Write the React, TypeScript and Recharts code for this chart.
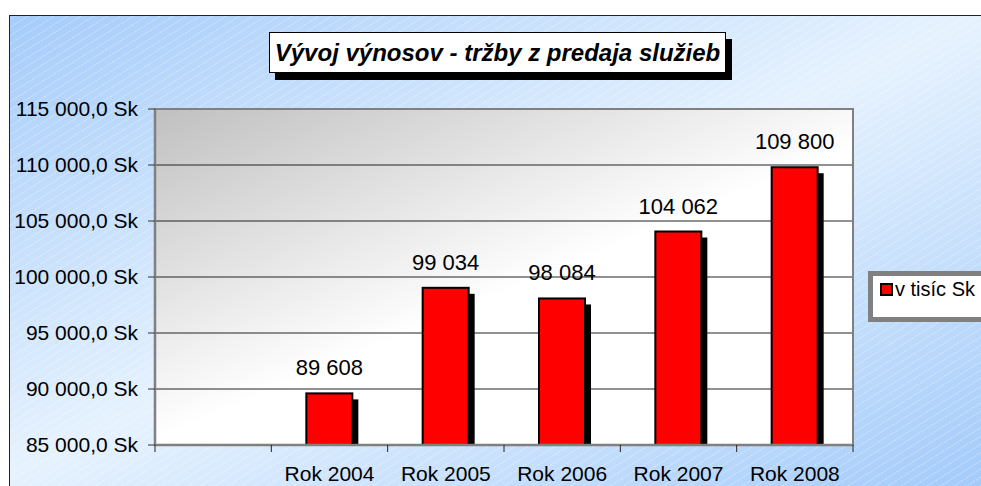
import React from 'react';
import { BarChart, Bar, XAxis, YAxis, CartesianGrid, LabelList, Legend, ReferenceArea } from 'recharts';

// ---- data ----
const categories = ['', 'Rok 2004', 'Rok 2005', 'Rok 2006', 'Rok 2007', 'Rok 2008'];
const revenues: (number | null)[] = [null, 89608, 99034, 98084, 104062, 109800];
const yTicks = [85000, 90000, 95000, 100000, 105000, 110000, 115000];
const seriesName = 'v tisíc Sk';
const chartTitle = 'Vývoj výnosov - tržby z predaja služieb';

const data = categories.map((c, i) => ({ cat: c, value: revenues[i] }));

// ---- layout / style ----
const W = 981;
const H = 486;
const FONT = 'Arial, "Liberation Sans", sans-serif';
const MARGIN = { top: 109, right: 128, bottom: 0, left: 0 };
const Y_AXIS_W = 155;
const X_AXIS_H = 41;
const X_TICK_SIZE = 6;
const X_TICK_MARGIN = 15;
const PLOT_W = W - MARGIN.right - MARGIN.left - Y_AXIS_W;
const LABEL_GAP = 18;

const groupThousands = (n: number) =>
  Math.round(n).toString().replace(/\B(?=(\d{3})+(?!\d))/g, ' ');
const fmtAxis = (v: number) => `${groupThousands(v)},0 Sk`;
const fmtLabel = (v: any) => (v == null ? '' : groupThousands(Number(v)));

const ShadowBar = (p: any) => {
  const { x, y, width, height } = p;
  if (!height || height <= 0) return null;
  return (
    <g>
      <rect x={x + 6} y={y + 6} width={width} height={Math.max(0, height - 6)} fill="#000" />
      <rect x={x} y={y} width={width} height={height} fill="#ff0000" stroke="#000" strokeWidth={2} />
    </g>
  );
};

const ValueLabel = (p: any) => {
  const { x, y, width, value } = p;
  if (value == null || value === '') return null;
  return (
    <text
      x={Number(x) + Number(width) / 2}
      y={Number(y) - LABEL_GAP}
      textAnchor="middle"
      fontSize={22}
      fill="#000"
      fontFamily={FONT}
    >
      {fmtLabel(value)}
    </text>
  );
};

const XTick = (props: any) => {
  const { x, y, payload, index } = props;
  const count = props.visibleTicksCount || categories.length;
  const w = typeof props.width === 'number' ? props.width : PLOT_W;
  const half = w / count / 2;
  const axisY = y - X_TICK_SIZE - X_TICK_MARGIN;
  return (
    <g>
      <line x1={x - half} x2={x - half} y1={axisY} y2={axisY + 7} stroke="#222" strokeWidth={1} />
      {index === count - 1 && (
        <line x1={x + half} x2={x + half} y1={axisY} y2={axisY + 7} stroke="#222" strokeWidth={1} />
      )}
      <text x={x} y={y} dy="0.71em" textAnchor="middle" fontSize={21} fill="#000" fontFamily={FONT}>
        {payload.value}
      </text>
    </g>
  );
};

const LegendBox = () => (
  <div
    style={{
      position: 'relative',
      boxSizing: 'border-box',
      width: 150,
      height: 51,
      border: '5px solid #808080',
      background: '#fff',
      fontFamily: FONT,
      fontSize: 20,
      color: '#000',
    }}
  >
    <span
      style={{
        position: 'absolute',
        left: 7,
        top: 7,
        width: 9,
        height: 9,
        border: '2px solid #000',
        background: '#ff0000',
      }}
    />
    <span style={{ position: 'absolute', left: 22, top: 3, lineHeight: '20px', whiteSpace: 'nowrap' }}>
      {seriesName}
    </span>
  </div>
);

export default function App() {
  return (
    <div
      style={{
        position: 'absolute',
        left: 0,
        top: 0,
        width: W,
        height: H,
        overflow: 'hidden',
        background: '#fff',
      }}
    >
      <svg width={W} height={H} style={{ position: 'absolute', left: 0, top: 0 }}>
        <defs>
          <linearGradient id="bgGrad" gradientUnits="userSpaceOnUse" x1={0} y1={0} x2={371} y2={783}>
            <stop offset="0" stopColor="#a2cafa" />
            <stop offset="0.5" stopColor="#e6f2fe" />
            <stop offset="1" stopColor="#a2cafa" />
          </linearGradient>
          <linearGradient id="plotGrad" gradientUnits="userSpaceOnUse" x1={155} y1={109} x2={274} y2={391}>
            <stop offset="0" stopColor="#c0c0c0" />
            <stop offset="1" stopColor="#ffffff" />
          </linearGradient>
          <pattern id="hatch" width="7" height="7" patternUnits="userSpaceOnUse" patternTransform="rotate(-32)">
            <line x1="0" y1="0.5" x2="7" y2="0.5" stroke="#ffffff" strokeWidth="1" strokeDasharray="2 1" opacity="0.35" />
          </pattern>
        </defs>
        <rect x={9.5} y={15.5} width={1000} height={500} fill="url(#bgGrad)" />
        <rect x={9.5} y={15.5} width={1000} height={500} fill="url(#hatch)" />
        <rect x={9.5} y={15.5} width={1000} height={500} fill="none" stroke="#222" strokeWidth={1} />
      </svg>

      <div
        style={{
          position: 'absolute',
          left: 269,
          top: 32,
          width: 457,
          height: 41,
          boxSizing: 'border-box',
          border: '1px solid #000',
          background: '#fff',
          boxShadow: '6px 7px 0 #000',
          fontFamily: FONT,
          fontSize: 24,
          fontWeight: 'bold',
          fontStyle: 'italic',
          color: '#000',
          display: 'flex',
          alignItems: 'center',
          justifyContent: 'center',
          whiteSpace: 'nowrap',
        }}
      >
        {chartTitle}
      </div>

      <div style={{ position: 'absolute', left: 0, top: 0 }}>
        <BarChart width={W} height={H} data={data} margin={MARGIN}>
          <CartesianGrid vertical={false} stroke="#222" fill="url(#plotGrad)" fillOpacity={1} />
          <ReferenceArea y1={85000} y2={115000} fill="none" stroke="#808080" strokeWidth={2} ifOverflow="visible" />
          <XAxis
            dataKey="cat"
            interval={0}
            height={X_AXIS_H}
            tickSize={X_TICK_SIZE}
            tickMargin={X_TICK_MARGIN}
            tickLine={false}
            axisLine={{ stroke: '#808080', strokeWidth: 2.5 }}
            tick={<XTick />}
          />
          <YAxis
            type="number"
            domain={[85000, 115000]}
            ticks={yTicks}
            interval={0}
            allowDataOverflow
            width={Y_AXIS_W}
            tickSize={7}
            tickMargin={10}
            tickFormatter={fmtAxis}
            tick={{ fontSize: 21, fill: '#000', fontFamily: FONT }}
            axisLine={{ stroke: '#808080', strokeWidth: 2.5 }}
            tickLine={{ stroke: '#333' }}
          />
          <Legend
            layout="vertical"
            align="center"
            verticalAlign="middle"
            wrapperStyle={{ position: 'absolute', left: 868, top: 271, width: 150, height: 51, margin: 0 }}
            content={() => <LegendBox />}
          />
          <Bar dataKey="value" name={seriesName} barSize={46} shape={ShadowBar} isAnimationActive={false}>
            <LabelList dataKey="value" content={<ValueLabel />} />
          </Bar>
        </BarChart>
      </div>
    </div>
  );
}
